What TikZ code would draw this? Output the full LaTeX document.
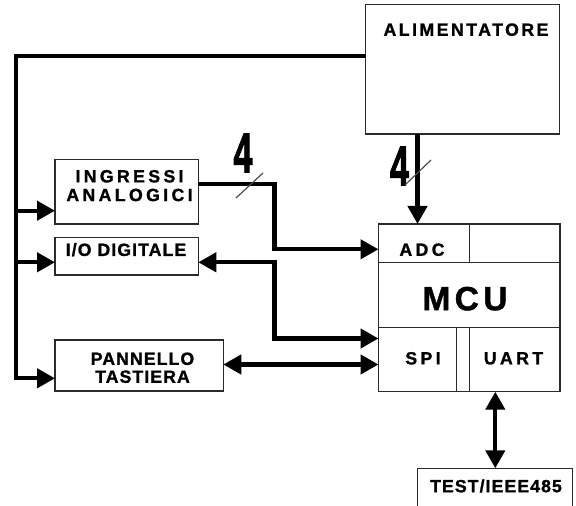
\documentclass[tikz,border=0pt]{standalone}
\usepackage{fontspec}
\usepackage{graphicx}
\setmainfont{Liberation Sans}
\newfontfamily\widefont{Liberation Sans}[LetterSpace=19, FakeBold=1.2]
\newfontfamily\midfont{Liberation Sans}[LetterSpace=14, FakeBold=1.2]
\newfontfamily\tightfont{Liberation Sans}[LetterSpace=6, FakeBold=1.2]
\newfontfamily\mcufont{Liberation Sans}[LetterSpace=13, FakeBold=1.2]
\newfontfamily\numfont{Liberation Sans}[FakeBold=2.5]
\usetikzlibrary{arrows.meta}
\definecolor{boxgray}{HTML}{2A2A2A}
\tikzset{
  box/.style={draw=boxgray, line width=1.3pt, rectangle, inner sep=0pt, outer sep=0pt},
  lbl/.style={inner sep=0pt, outer sep=0pt, text=black, align=center},
  wlbl/.style={lbl, font=\widefont\bfseries\fontsize{17.7}{18.7}\selectfont},
  mlbl/.style={lbl, font=\midfont\bfseries\fontsize{17.7}{18.7}\selectfont},
  tlbl/.style={lbl, font=\tightfont\bfseries\fontsize{17.7}{17.9}\selectfont},
  wire/.style={line width=4.3pt, black, line join=miter},
  tip/.style={-{Triangle[length=18pt,width=19pt]}},
  tips/.style={{Triangle[length=18pt,width=19pt]}-{Triangle[length=18pt,width=19pt]}},
  slash/.style={line width=1.2pt, black!70},
  num/.style={inner sep=0pt, outer sep=0pt, font=\numfont\bfseries\fontsize{56}{56}\selectfont},
}
\begin{document}
\begin{tikzpicture}[x=1pt,y=1pt]
\clip (0,0) rectangle (576,506);
\fill[white] (0,0) rectangle (576,506);

% boxes
\node[box, minimum width=194pt, minimum height=129.6pt] (alim) at (462.5,436.8) {};
\node[box, minimum width=143.3pt, minimum height=64.5pt] (ing) at (126.65,314.25) {};
\node[box, minimum width=143.3pt, minimum height=37.7pt] (io) at (126.65,249.85) {};
\node[box, minimum width=168.3pt, minimum height=51pt] (pan) at (139.15,140.5) {};
\node[box, minimum width=181.5pt, minimum height=167.7pt] (mcu) at (469.25,198.15) {};
\node[box, minimum width=155pt, minimum height=60pt] (test) at (495.2,7.7) {};

% MCU cells
\node[box, minimum width=90.8pt, minimum height=38.3pt] (adc) at (423.9,262.85) {};
\node[box, minimum width=90.7pt, minimum height=38.3pt] (adcr) at (514.65,262.85) {};
\node[box, minimum width=78.2pt, minimum height=64.2pt] (spi) at (417.6,146.4) {};
\node[box, minimum width=90.7pt, minimum height=64.2pt] (uart) at (514.65,146.4) {};
\draw[boxgray, line width=1.3pt] (spi.north east) -- (uart.north west);

% texts
\node[mlbl] (talim) at (466,476.3) {ALIMENTATORE};
\node[wlbl] (ting) at (129.5,320.35) {INGRESSI\\ANALOGICI};
\node[tlbl] (tio) at (126,256.3) {I/O DIGITALE};
\node[tlbl] (tpan) at (142.5,138.25) {PANNELLO\\TASTIERA};
\node[wlbl] (tadc) at (422,256.3) {ADC};
\node[lbl, font=\mcufont\bfseries\fontsize{33.5}{36}\selectfont] (tmcu) at (465,207.3) {MCU};
\node[wlbl] (tspi) at (423,147.7) {SPI};
\node[wlbl] (tuart) at (513.5,147.7) {UART};
\node[tlbl] (ttest) at (496,20) {TEST/IEEE485};

% bus labels
\node[num] (n1) at (243,353) {\scalebox{0.6}[1]{4}};
\node[num] (n2) at (399.5,340) {\scalebox{0.6}[1]{4}};

% coordinates
\coordinate (ptop) at (16,450);
\coordinate (pbot) at (16,127.7);
\coordinate (b1) at (16,295.3);
\coordinate (b2) at (16,243.7);
\coordinate (a1) at (274.5,322);
\coordinate (a2) at (274.5,256.7);
\coordinate (d1) at (274.5,243.7);
\coordinate (d2) at (274.5,167.5);
\coordinate (p1) at (300,141.5);
\coordinate (dx) at (417.5,0);
\coordinate (ux) at (495.3,0);

% power bus
\draw[wire, tip] (alim.west |- ptop) -- (ptop) -- (pbot) -- (pbot -| pan.west);
\draw[wire, tip] (b1) -- (b1 -| ing.west);
\draw[wire, tip] (b2) -- (b2 -| io.west);

% analog inputs
\draw[wire, tip] (ing.east |- a1) -- (a1) -- (a2) -- (a2 -| mcu.west);
% digital I/O
\draw[wire, tips] (io.east |- d1) -- (d1) -- (d2) -- (d2 -| mcu.west);
% panel
\draw[wire, tips] (pan.east |- p1) -- (p1 -| mcu.west);
% power to MCU
\draw[wire, tip] (alim.south -| dx) -- (mcu.north -| dx);
% UART to test
\draw[wire, tips] (uart.south -| ux) -- (test.north -| ux);

% slashes
\coordinate (s1a) at (236,308);
\coordinate (s1b) at (263,333);
\coordinate (s2a) at (405,321);
\coordinate (s2b) at (431,346);
\draw[slash] (s1a) -- (s1b);
\draw[slash] (s2a) -- (s2b);
\end{tikzpicture}
\end{document}
